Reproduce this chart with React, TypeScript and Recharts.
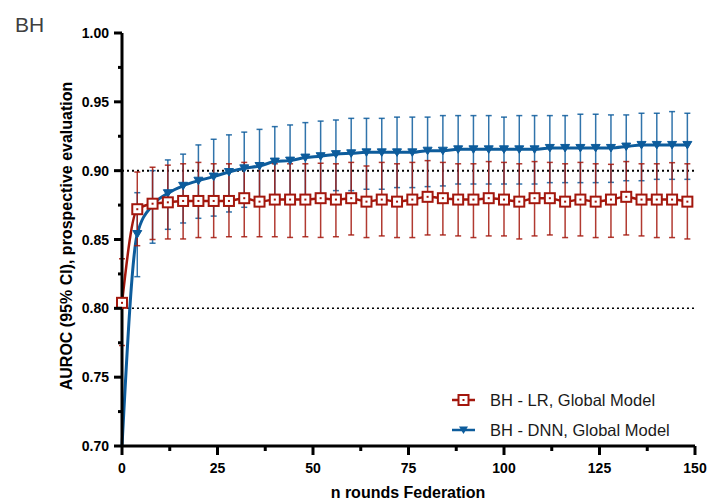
import React from 'react';
import { LineChart, Line, XAxis, YAxis, ErrorBar, ReferenceLine, Legend } from 'recharts';

// federation rounds (x) and AUROC with 95% CI
const ROUNDS = [0, 4, 8, 12, 16, 20, 24, 28, 32, 36, 40, 44, 48, 52, 56, 60, 64, 68, 72, 76, 80, 84, 88, 92, 96, 100, 104, 108, 112, 116, 120, 124, 128, 132, 136, 140, 144, 148];

const LR_AUROC = [0.804, 0.872, 0.876, 0.877, 0.878, 0.878, 0.878, 0.878, 0.880, 0.8775, 0.879, 0.879, 0.879, 0.880, 0.879, 0.880, 0.8775, 0.879, 0.8775, 0.879, 0.881, 0.880, 0.879, 0.879, 0.880, 0.879, 0.8775, 0.880, 0.880, 0.8775, 0.879, 0.8775, 0.879, 0.881, 0.879, 0.879, 0.879, 0.8775];
const LR_UPPER = [0.836, 0.899, 0.9025, 0.904, 0.905, 0.906, 0.905, 0.905, 0.906, 0.905, 0.905, 0.905, 0.905, 0.9054, 0.905, 0.906, 0.9034, 0.906, 0.905, 0.906, 0.9073, 0.906, 0.905, 0.905, 0.9066, 0.906, 0.905, 0.9066, 0.906, 0.905, 0.906, 0.905, 0.9046, 0.9066, 0.905, 0.905, 0.9058, 0.905];
const LR_LOWER = [0.773, 0.8455, 0.850, 0.8504, 0.8504, 0.8514, 0.8514, 0.852, 0.852, 0.852, 0.852, 0.8515, 0.852, 0.8515, 0.852, 0.8533, 0.8514, 0.8526, 0.8514, 0.8514, 0.8533, 0.8533, 0.8526, 0.8514, 0.8526, 0.8526, 0.8504, 0.8526, 0.8533, 0.8514, 0.8526, 0.8514, 0.8516, 0.8533, 0.8526, 0.8514, 0.8514, 0.8504];

const DNN_AUROC = [0.700, 0.854, 0.875, 0.8836, 0.889, 0.8927, 0.8957, 0.899, 0.9017, 0.9034, 0.9066, 0.9073, 0.9095, 0.9105, 0.912, 0.9126, 0.9133, 0.9133, 0.9133, 0.9133, 0.9145, 0.9145, 0.9155, 0.9155, 0.9155, 0.9155, 0.9155, 0.9155, 0.9165, 0.9165, 0.9165, 0.9165, 0.9165, 0.9175, 0.9187, 0.9187, 0.9187, 0.9187];
const DNN_UPPER = [0.700, 0.884, 0.900, 0.9078, 0.912, 0.9187, 0.9228, 0.926, 0.928, 0.930, 0.932, 0.9332, 0.9349, 0.936, 0.9368, 0.938, 0.938, 0.938, 0.9389, 0.9389, 0.9389, 0.940, 0.940, 0.940, 0.940, 0.9389, 0.940, 0.940, 0.940, 0.940, 0.941, 0.941, 0.9405, 0.9405, 0.9417, 0.9417, 0.9429, 0.9417];
const DNN_LOWER = [0.700, 0.823, 0.8473, 0.8574, 0.862, 0.8654, 0.867, 0.870, 0.8734, 0.875, 0.8792, 0.879, 0.8807, 0.8829, 0.8855, 0.8855, 0.8865, 0.8865, 0.8877, 0.8877, 0.8884, 0.8889, 0.8903, 0.8903, 0.8903, 0.8903, 0.8903, 0.8903, 0.8913, 0.8913, 0.8913, 0.8913, 0.8915, 0.8927, 0.8927, 0.8937, 0.8937, 0.8937];

const X_TICKS = [0, 12.5, 25, 37.5, 50, 62.5, 75, 87.5, 100, 112.5, 125, 137.5, 150];
const Y_TICKS = [0.7, 0.725, 0.75, 0.775, 0.8, 0.825, 0.85, 0.875, 0.9, 0.925, 0.95, 0.975, 1.0];

const LR_NAME = 'BH - LR, Global Model';
const DNN_NAME = 'BH - DNN, Global Model';

const RED = '#a3170d';
const BLUE = '#0d5c9c';
const FONT = '"Liberation Sans", Arial, Helvetica, sans-serif';

const data = ROUNDS.map((round, i) => ({
  round,
  lr: LR_AUROC[i],
  lrErr: [LR_AUROC[i] - LR_LOWER[i], LR_UPPER[i] - LR_AUROC[i]],
  dnn: DNN_AUROC[i],
  dnnErr: [DNN_AUROC[i] - DNN_LOWER[i], DNN_UPPER[i] - DNN_AUROC[i]],
}));

const isMajor = (v: number, step: number) => Math.abs(v / step - Math.round(v / step)) < 1e-6;

const YTick = ({ x, y, payload }: any) => {
  const major = isMajor(payload.value, 0.05);
  return (
    <g>
      <line x1={x} x2={x - (major ? 8 : 4)} y1={y} y2={y} stroke="#000" strokeWidth={3} />
      {major && (
        <text x={x - 13} y={y} dy={5} textAnchor="end" fontSize={14} fontWeight={700} fontFamily={FONT} fill="#000">
          {payload.value.toFixed(2)}
        </text>
      )}
    </g>
  );
};

const XTick = ({ x, y, payload }: any) => {
  const major = isMajor(payload.value, 25);
  return (
    <g>
      <line x1={x} x2={x} y1={y} y2={y + (major ? 9 : 5)} stroke="#000" strokeWidth={3} />
      {major && (
        <text x={x} y={y + 27} textAnchor="middle" fontSize={14} fontWeight={700} fontFamily={FONT} fill="#000">
          {payload.value}
        </text>
      )}
    </g>
  );
};

const SquareDot = ({ cx, cy, index }: any) => (
  <g key={`lr-${index}`}>
    <rect x={cx - 5} y={cy - 5} width={10} height={10} fill="#fff" stroke={RED} strokeWidth={2} />
    <rect x={cx - 1} y={cy - 1} width={2} height={2} fill={RED} />
  </g>
);

const TriangleDot = ({ cx, cy, index, value }: any) => {
  if (value <= 0.7) return <g key={`dnn-${index}`} />;
  return (
    <path key={`dnn-${index}`} d={`M${cx - 4.5},${cy - 3.5}L${cx + 4.5},${cy - 3.5}L${cx},${cy + 4}Z`} fill={BLUE} stroke={BLUE} strokeWidth={1} />
  );
};

const renderLegend = () => (
  <svg width={260} height={60}>
    <g>
      <line x1={7} x2={30} y1={15} y2={15} stroke={RED} strokeWidth={2.5} />
      <rect x={13.5} y={10} width={10} height={10} fill="#fff" stroke={RED} strokeWidth={2} />
      <rect x={17.5} y={14} width={2} height={2} fill={RED} />
      <text x={45} y={15} dy={6} fontSize={16.5} fontFamily={FONT} fill="#1a1a1a">{LR_NAME}</text>
    </g>
    <g>
      <line x1={7} x2={30} y1={45} y2={45} stroke={BLUE} strokeWidth={2.5} />
      <path d="M14,41.5L23,41.5L18.5,49Z" fill={BLUE} />
      <text x={45} y={45} dy={6} fontSize={16.5} fontFamily={FONT} fill="#1a1a1a">{DNN_NAME}</text>
    </g>
  </svg>
);

const YTitle = () => (
  <g>
    <text x={15} y={32} fontSize={21} fontFamily={FONT} fill="#404040">BH</text>
    <text
      x={72}
      y={236}
      transform="rotate(-90 72 236)"
      textAnchor="middle"
      fontSize={16}
      fontWeight={700}
      fontFamily={FONT}
      fill="#000"
    >
      AUROC (95% CI), prospective evaluation
    </text>
  </g>
);

const XTitle = () => (
  <text x={408} y={498} textAnchor="middle" fontSize={16} fontWeight={700} fontFamily={FONT} fill="#000">
    n rounds Federation
  </text>
);

export default function App() {
  return (
    <div style={{ position: 'absolute', left: 0, top: 0, width: 707, height: 500, background: '#fff' }}>
      <LineChart width={707} height={500} data={data} margin={{ top: 33, right: 12, bottom: 0, left: 0 }}>
        <XAxis
          dataKey="round"
          type="number"
          domain={[0, 150]}
          ticks={X_TICKS}
          interval={0}
          height={54}
          tickSize={0}
          tickMargin={0}
          tickLine={false}
          tick={<XTick />}
          axisLine={{ stroke: '#000', strokeWidth: 3 }}
          label={{ content: () => <XTitle /> }}
        />
        <YAxis
          type="number"
          domain={[0.7, 1.0]}
          ticks={Y_TICKS}
          interval={0}
          allowDataOverflow
          width={122}
          tickSize={0}
          tickMargin={0}
          tickLine={false}
          tick={<YTick />}
          axisLine={{ stroke: '#000', strokeWidth: 3 }}
          label={{ content: () => <YTitle /> }}
        />
        <ReferenceLine y={0.9} stroke="#000" strokeWidth={2} strokeDasharray="2 3" />
        <ReferenceLine y={0.8} stroke="#000" strokeWidth={1.5} strokeDasharray="2 3" />
        <Line
          type="monotone"
          dataKey="dnn"
          name={DNN_NAME}
          stroke={BLUE}
          strokeWidth={3}
          dot={(p: any) => <TriangleDot {...p} />}
          activeDot={false}
          isAnimationActive={false}
        >
          <ErrorBar dataKey="dnnErr" width={3} stroke={BLUE} strokeWidth={1.5} strokeOpacity={0.85} />
        </Line>
        <Line
          type="monotone"
          dataKey="lr"
          name={LR_NAME}
          stroke={RED}
          strokeWidth={2.5}
          dot={(p: any) => <SquareDot {...p} />}
          activeDot={false}
          isAnimationActive={false}
        >
          <ErrorBar dataKey="lrErr" width={3} stroke={RED} strokeWidth={1.5} strokeOpacity={0.85} />
        </Line>
        <Legend
          layout="horizontal"
          verticalAlign="middle"
          align="center"
          content={renderLegend}
          wrapperStyle={{ position: 'absolute', left: 445, top: 385, width: 260, height: 60 }}
        />
      </LineChart>
    </div>
  );
}
